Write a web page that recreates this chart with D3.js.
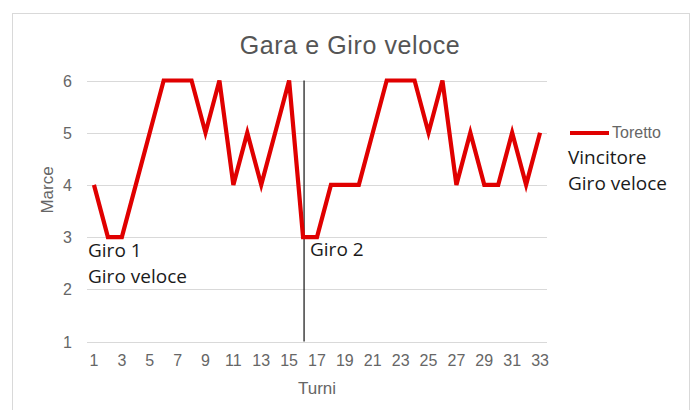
<!DOCTYPE html>
<html>
<head>
<meta charset="utf-8">
<script src="https://cdn.jsdelivr.net/npm/d3@7"></script>
<style>
  body { margin: 0; background: #fff; }
  text { font-family: "Liberation Sans", Arial, sans-serif; }
</style>
</head>
<body>
<div id="canvas"></div>
<script>
"use strict"

/* chart size, same as the browser window */
let svgWidth = 694;
let svgHeight = 410;

/* data */
let turni = [1, 2, 3, 4, 5, 6, 7, 8, 9, 10, 11, 12, 13, 14, 15, 16, 17,
    18, 19, 20, 21, 22, 23, 24, 25, 26, 27, 28, 29, 30, 31, 32, 33];
let marce = [4, 3, 3, 4, 5, 6, 6, 6, 5, 6, 4, 5, 4, 5, 6, 3, 3,
    4, 4, 4, 5, 6, 6, 6, 5, 6, 4, 5, 4, 4, 5, 4, 5];
let xTicks = [1, 3, 5, 7, 9, 11, 13, 15, 17, 19, 21, 23, 25, 27, 29, 31, 33];
let yTicks = [1, 2, 3, 4, 5, 6];
let seriesName = "Toretto";
let giroCambio = 16; // turn where the second lap starts

let svg = d3.select("#canvas")
    .append("svg")
    .attr("width", svgWidth)
    .attr("height", svgHeight);

/* white card with light grey border */
svg.append("rect")
    .attr("x", 12.5)
    .attr("y", 13.5)
    .attr("width", 677)
    .attr("height", 420)
    .attr("fill", "#fff")
    .attr("stroke", "#d9d9d9");

let xScale = d3.scaleBand()
    .domain(turni)
    .range([87, 547]);

let yScale = d3.scaleLinear()
    .domain([1, 6])
    .range([341.5, 80.5]);

let cx = function (t) { return xScale(t) + xScale.bandwidth() / 2; };

/* horizontal grid */
svg.selectAll(".grid")
    .data(yTicks)
    .join("line")
    .attr("class", "grid")
    .attr("x1", 87)
    .attr("x2", 547)
    .attr("y1", function (d) { return Math.round(yScale(d)) + 0.5; })
    .attr("y2", function (d) { return Math.round(yScale(d)) + 0.5; })
    .attr("stroke", "#d9d9d9")
    .attr("stroke-width", 1);

/* y tick labels */
svg.selectAll(".ylab")
    .data(yTicks)
    .join("text")
    .attr("class", "ylab")
    .attr("x", 72)
    .attr("y", function (d) { return yScale(d) + 6; })
    .attr("text-anchor", "end")
    .attr("font-size", 16)
    .attr("fill", "#666")
    .text(function (d) { return d; });

/* x tick labels */
svg.selectAll(".xlab")
    .data(xTicks)
    .join("text")
    .attr("class", "xlab")
    .attr("x", function (d) { return cx(d); })
    .attr("y", 366)
    .attr("text-anchor", "middle")
    .attr("font-size", 16)
    .attr("fill", "#666")
    .text(function (d) { return d; });

/* vertical separator between lap 1 and lap 2 */
svg.append("line")
    .attr("x1", cx(giroCambio) + 1)
    .attr("x2", cx(giroCambio) + 1)
    .attr("y1", yScale(6))
    .attr("y2", yScale(1))
    .attr("stroke", "#111")
    .attr("stroke-width", 1.2);

/* the series line */
let line = d3.line()
    .x(function (d, i) { return cx(turni[i]); })
    .y(function (d) { return yScale(d); });

svg.append("path")
    .datum(marce)
    .attr("d", line)
    .attr("fill", "none")
    .attr("stroke", "#e00000")
    .attr("stroke-width", 4.2)
    .attr("stroke-linejoin", "miter");

/* title and axis titles */
svg.append("text")
    .attr("x", 350)
    .attr("y", 54)
    .attr("text-anchor", "middle")
    .attr("font-size", 25)
    .attr("letter-spacing", 0.6)
    .attr("fill", "#555")
    .text("Gara e Giro veloce");

svg.append("text")
    .attr("x", 317)
    .attr("y", 394)
    .attr("text-anchor", "middle")
    .attr("font-size", 17)
    .attr("fill", "#666")
    .text("Turni");

svg.append("text")
    .attr("transform", "translate(53,190) rotate(-90)")
    .attr("text-anchor", "middle")
    .attr("font-size", 17)
    .attr("fill", "#666")
    .text("Marce");

/* legend */
svg.append("line")
    .attr("x1", 570)
    .attr("x2", 609)
    .attr("y1", 133)
    .attr("y2", 133)
    .attr("stroke", "#e00000")
    .attr("stroke-width", 4);

svg.append("text")
    .attr("x", 612)
    .attr("y", 138)
    .attr("font-size", 16)
    .attr("fill", "#666")
    .text(seriesName);

/* hand-placed notes, Calibri-like dark text */
let notes = [
    { x: 568, y: 164, t: "Vincitore" },
    { x: 568, y: 190, t: "Giro veloce" },
    { x: 88, y: 257, t: "Giro 1" },
    { x: 88, y: 283, t: "Giro veloce" },
    { x: 310, y: 256, t: "Giro 2" }
];

svg.selectAll(".note")
    .data(notes)
    .join("text")
    .attr("class", "note")
    .attr("x", function (d) { return d.x; })
    .attr("y", function (d) { return d.y; })
    .attr("font-size", 19)
    .attr("fill", "#1a1a1a")
    .style("font-family", "'Open Sans', sans-serif")
    .text(function (d) { return d.t; });
</script>
</body>
</html>
